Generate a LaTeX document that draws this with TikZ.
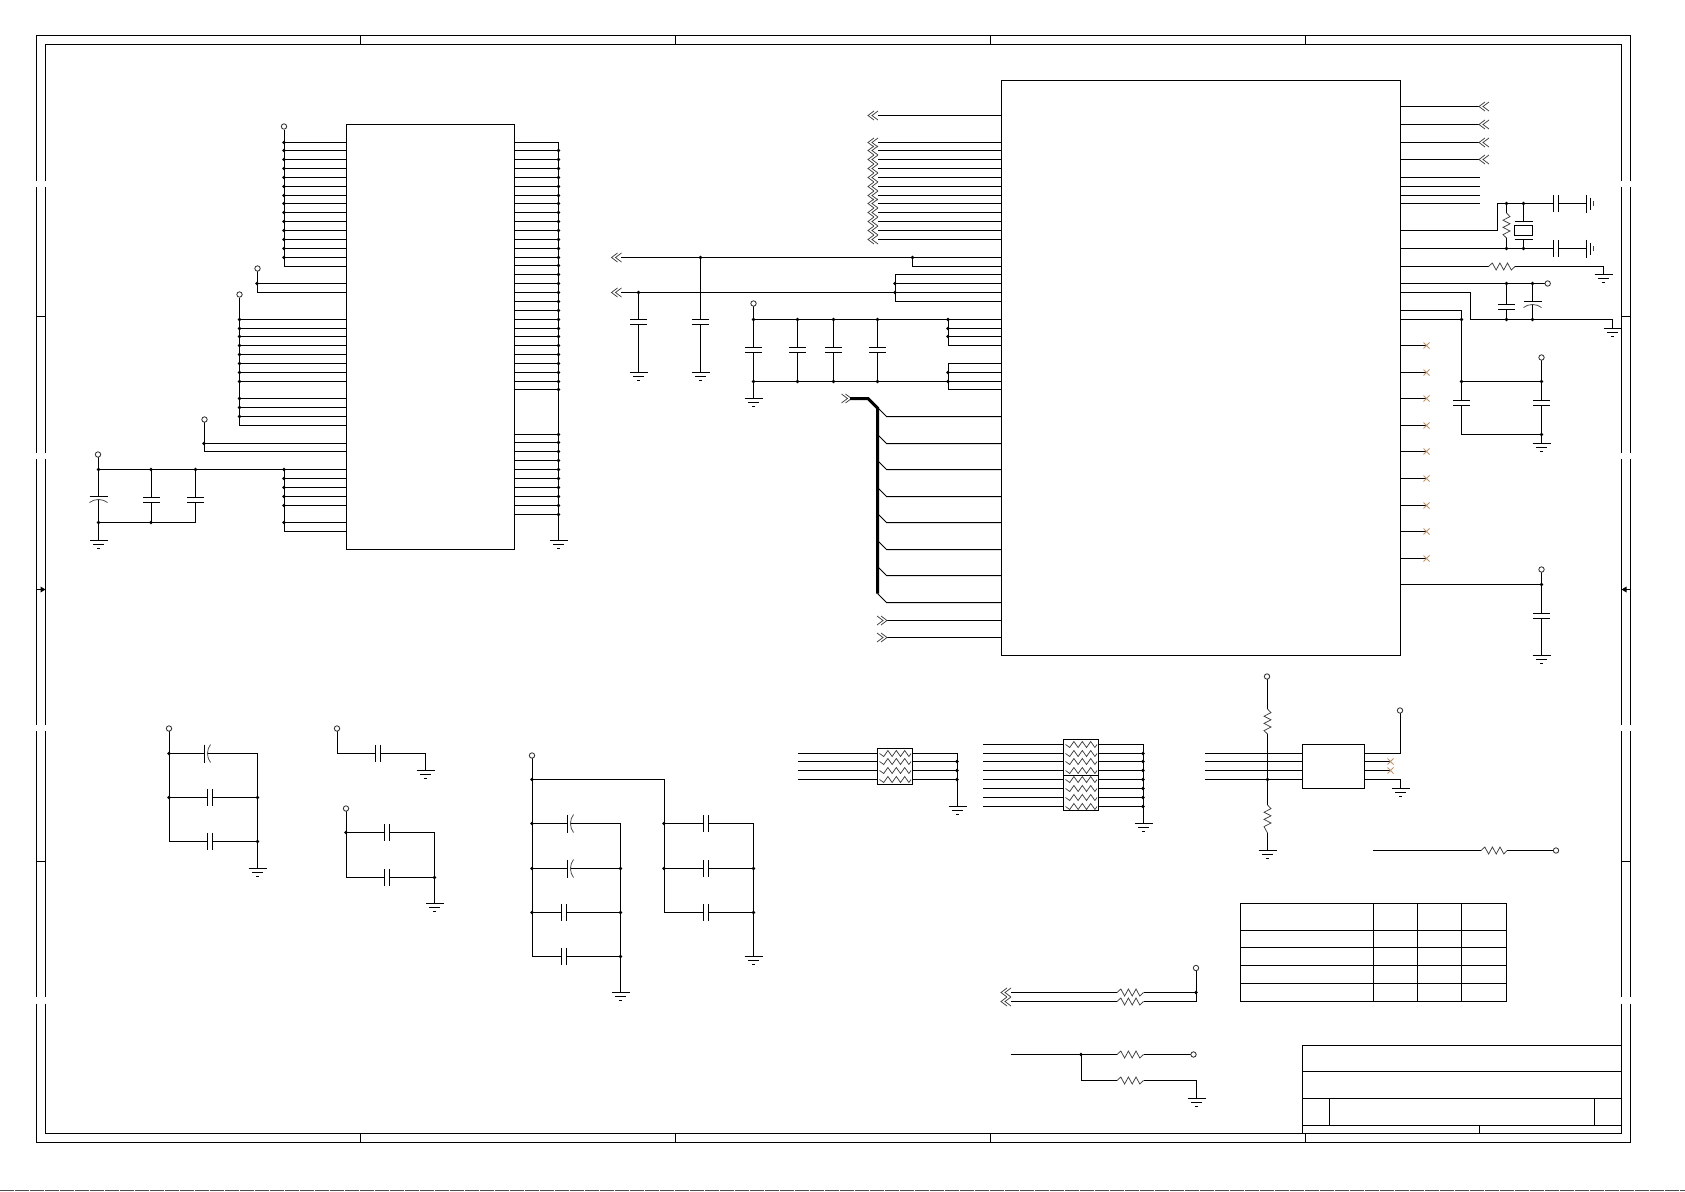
\documentclass[tikz,border=0pt]{standalone}
\definecolor{nc}{RGB}{196,150,110}
\tikzset{x=1pt,y=-1pt,
 wire/.style={line width=1pt,black},
 fine/.style={line width=.75pt,black!75},
 buswire/.style={line width=3pt,black},
 ncmark/.style={line width=.8pt,nc}}
\newcommand{\gnd}[2]{\draw[wire] (#1-9,#2)--(#1+9,#2) (#1-5.5,#2+4)--(#1+5.5,#2+4) (#1-1.5,#2+8)--(#1+1.5,#2+8);}
\newcommand{\gndr}[2]{\draw[wire] (#1,#2-9)--(#1,#2+9) (#1+3.5,#2-6)--(#1+3.5,#2+6);\draw[fine] (#1+7,#2-2.5)--(#1+7,#2+2.5);}
\newcommand{\jn}[2]{\fill[black] (#1,#2) circle (1.8);}
\newcommand{\term}[2]{\draw[line width=.85pt,black!80,fill=white] (#1,#2) circle (2.7);}
% capacitors: x, wire start, wire end, first plate
\newcommand{\capv}[4]{\draw[wire] (#1,#2)--(#1,#4) (#1,#3)--(#1,#4+5);\draw[wire] (#1-8.5,#4)--(#1+8.5,#4) (#1-8.5,#4+5)--(#1+8.5,#4+5);}
\newcommand{\pcapv}[4]{\draw[wire] (#1,#2)--(#1,#4) (#1,#3)--(#1,#4+2.5);\draw[wire] (#1-9,#4)--(#1+9,#4);\draw[fine] (#1-9,#4+6) .. controls (#1-4,#4+2) and (#1+4,#4+2) .. (#1+9,#4+6);}
\newcommand{\caph}[4]{\draw[wire] (#2,#1)--(#3,#1) (#4,#1)--(#3+4.5,#1);\draw[wire] (#3,#1-8.5)--(#3,#1+8.5) (#3+4.5,#1-8.5)--(#3+4.5,#1+8.5);}
\newcommand{\pcaph}[4]{\draw[wire] (#2,#1)--(#3,#1) (#4,#1)--(#3+3,#1);\draw[wire] (#3,#1-9)--(#3,#1+9);\draw[fine] (#3+6,#1-9) .. controls (#3+2,#1-4) and (#3+2,#1+4) .. (#3+6,#1+9);}
\newcommand{\resh}[3]{\draw[fine] (#1,#3)--(#1+3.8,#3-3.5)--(#1+7.6,#3+3.5)--(#1+11.4,#3-3.5)--(#1+15.2,#3+3.5)--(#1+19,#3-3.5)--(#1+22.8,#3+3.5)--(#2,#3);}
\newcommand{\resv}[3]{\draw[fine] (#3,#1)--(#3+3.5,#1+3.6)--(#3-3.5,#1+7.2)--(#3+3.5,#1+10.8)--(#3-3.5,#1+14.4)--(#3+3.5,#1+18)--(#3-3.5,#1+21.6)--(#3,#2);}
\newcommand{\chl}[2]{\draw[fine] (#1+6,#2-4.5)--(#1,#2)--(#1+6,#2+4.5) (#1+10,#2-4.5)--(#1+4,#2)--(#1+10,#2+4.5);}
\newcommand{\chr}[2]{\draw[fine] (#1,#2-4.5)--(#1+6,#2)--(#1,#2+4.5) (#1+4,#2-4.5)--(#1+10,#2)--(#1+4,#2+4.5);}
\newcommand{\nc}[2]{\draw[ncmark] (#1-3,#2-3)--(#1+3,#2+3) (#1-3,#2+3)--(#1+3,#2-3);}
\newcommand{\wavebox}[3]{\draw[fine] (#1,#3)--(#1+4.2,#3+3)--(#1+8.4,#3-3)--(#1+12.6,#3+3)--(#1+16.8,#3-3)--(#1+21,#3+3)--(#1+25.2,#3-3)--(#1+29.4,#3+3)--(#2,#3);}
\begin{document}
\begin{tikzpicture}
\path[use as bounding box,fill=white] (0,0) rectangle (1685,1191);
\draw[wire,black!70,dash pattern=on 14pt off 1pt] (0,1190.5)--(1685,1190.5);
% ---------- sheet frame
\draw[wire,line width=1.1pt] (36.5,181)--(36.5,35.5)--(1630.5,35.5)--(1630.5,181) (45.5,181)--(45.5,44.5)--(1621.5,44.5)--(1621.5,181);
\foreach \a/\b in {187/453,459/725,731/997,1003.5/1142.5}{\draw[wire] (36.5,\a)--(36.5,\b) (1630.5,\a)--(1630.5,\b);}
\foreach \a/\b in {187/453,459/725,731/997,1003.5/1133.5}{\draw[wire] (45.5,\a)--(45.5,\b) (1621.5,\a)--(1621.5,\b);}
\draw[wire,line width=1.1pt] (36.5,1142.5)--(1630.5,1142.5) (45.5,1133.5)--(1621.5,1133.5);
\foreach \x in {360.5,675.5,990.5,1305.5}{\draw[wire] (\x,35.5)--(\x,44.5) (\x,1133.5)--(\x,1142.5);}
\foreach \y in {316.5,861.5}{\draw[wire] (36.5,\y)--(45.5,\y) (1621.5,\y)--(1630.5,\y);}
\draw[wire] (36.5,589.5)--(45.5,589.5) (1621.5,589.5)--(1630.5,589.5);
\fill[black] (45.5,589.5)--(40.5,586.5)--(40.5,592.5)--cycle (1621.5,589.5)--(1626.5,586.5)--(1626.5,592.5)--cycle;
% ---------- left IC
\draw[wire] (346.5,124.5) rectangle (514.5,549.5);
\draw[wire] (284.5,129.5)--(284.5,266.5);
\term{284}{126.5}
\foreach \y in {142.5,150.5,159.5,168.5,177.5,186.5,195.5,203.5,212.5,221.5,230.5,239.5,248.5,257.5}{\draw[wire] (284.5,\y)--(346.5,\y);\jn{284}{\y}}
\draw[wire] (284.5,266.5)--(346.5,266.5);
\draw[wire] (257.5,271)--(257.5,292.5)--(346.5,292.5) (257.5,283.5)--(346.5,283.5);
\term{257.5}{268.5}\jn{257}{283.5}
\draw[wire] (239.5,297.5)--(239.5,425.5)--(346.5,425.5);
\term{239.5}{294.5}
\foreach \y in {319.5,328.5,336.5,345.5,354.5,363.5,372.5,381.5,398.5,407.5,416.5}{\draw[wire] (239.5,\y)--(346.5,\y);\jn{239.5}{\y}}
\draw[wire] (204.5,422)--(204.5,451.5)--(346.5,451.5) (204.5,443.5)--(346.5,443.5);
\term{204.5}{419.5}\jn{204}{443.5}
\draw[wire] (98.5,457)--(98.5,469.5)--(346.5,469.5) (284.5,469.5)--(284.5,531.5)--(346.5,531.5);
\term{98}{454.5}
\foreach \y in {469.5,478.5,487.5,496.5,505.5,522.5}{\draw[wire] (284.5,\y)--(346.5,\y);\jn{284}{\y}}
\pcapv{98.5}{469.5}{522.5}{496.5}
\capv{151.5}{469.5}{522.5}{497.5}
\capv{195.5}{469.5}{522.5}{497.5}
\draw[wire] (98.5,522.5)--(195.5,522.5) (98.5,522.5)--(98.5,540.5);
\foreach \x/\y in {98.5/469.5,151/469.5,195.5/469.5,98.5/522.5,151/522.5}{\jn{\x}{\y}}
\gnd{98.5}{540.5}
\draw[wire] (514.5,142.5)--(558.5,142.5)--(558.5,540.5);
\foreach \y in {150.5,159.5,168.5,177.5,186.5,195.5,203.5,212.5,221.5,230.5,239.5,248.5,257.5,265.5,274.5,283.5,292.5,301.5,310.5,319.5,328.5,336.5,345.5,354.5,363.5,372.5,381.5,389.5,434.5,442.5,451.5,460.5,469.5,478.5,487.5,496.5,505.5,514.5}{\draw[wire] (514.5,\y)--(558.5,\y);\jn{558.5}{\y}}
\gnd{558.5}{540.5}
% ---------- main IC, left side
\draw[wire] (1001.5,80.5) rectangle (1400.5,655.5);
\foreach \y in {115.5,142.5,150.5,159.5,168.5,177.5,186.5,195.5,203.5,212.5,221.5,230.5,239.5}{\draw[wire] (878,\y)--(1001.5,\y);\chl{868}{\y}}
\draw[wire] (621,257.5)--(1001.5,257.5) (912.5,257.5)--(912.5,266.5)--(1001.5,266.5);
\chl{611.5}{257.5}\jn{700.5}{257.5}\jn{912.5}{257.5}
\draw[wire] (621,292.5)--(895.5,292.5);\chl{611.5}{292.5}
\draw[wire] (1001.5,274.5)--(895.5,274.5)--(895.5,301.5)--(1001.5,301.5) (895.5,283.5)--(1001.5,283.5) (895.5,292.5)--(1001.5,292.5);
\jn{895}{283.5}\jn{895}{292.5}
\capv{638.5}{292.5}{372.5}{319.5}\jn{638.5}{292.5}\gnd{638.5}{372.5}
\capv{700.5}{257.5}{372.5}{319.5}\gnd{700.5}{372.5}
\draw[wire] (753.5,306)--(753.5,319.5)--(1001.5,319.5);
\term{753.5}{303.5}
\draw[wire] (753.5,381.5)--(1001.5,381.5) (948.5,319.5)--(948.5,345.5)--(1001.5,345.5) (948.5,328.5)--(1001.5,328.5) (948.5,336.5)--(1001.5,336.5);
\draw[wire] (1001.5,363.5)--(948.5,363.5)--(948.5,389.5)--(1001.5,389.5) (948.5,372.5)--(1001.5,372.5);
\foreach \x in {753.5,797.5,833.5,877.5}{\capv{\x}{319.5}{381.5}{347.5}\jn{\x}{319.5}\jn{\x}{381.5}}
\foreach \y in {319.5,328.5,336.5,372.5,381.5}{\jn{948}{\y}}
\draw[wire] (753.5,381.5)--(753.5,398.5);\gnd{753.5}{398.5}
\chr{841.5}{398.5}
\draw[buswire,line join=miter] (850,398.5)--(868,398.5)--(877.5,408)--(877.5,593.5);
\foreach \y in {416.5,443.5,469.5,496.5,522.5,549.5,575.5,602.5}{\draw[wire] (877.5,\y-9)--(886.5,\y)--(1001.5,\y);}
\foreach \y in {620.5,637.5}{\draw[wire] (887,\y)--(1001.5,\y);\chr{877}{\y}}
% ---------- main IC, right side
\foreach \y in {106.5,124.5,142.5,159.5}{\draw[wire] (1400.5,\y)--(1480,\y);\chl{1479}{\y}}
\foreach \y in {177.5,186.5,195.5,203.5}{\draw[wire] (1400.5,\y)--(1480,\y);}
\draw[wire] (1400.5,230.5)--(1497.5,230.5)--(1497.5,203.5)--(1553.5,203.5);
\draw[wire] (1400.5,248.5)--(1553.5,248.5);
\foreach \y in {203.5,248.5}{\caph{\y}{1553.5}{1553.5}{1586.5}\gndr{1586.5}{\y}}
\draw[wire] (1506.5,203.5)--(1506.5,213) (1506.5,238)--(1506.5,248.5);
\resv{213}{238}{1506.5}
\draw[wire] (1523.5,203.5)--(1523.5,221.5) (1523.5,239.5)--(1523.5,248.5) (1514.5,221.5)--(1532.5,221.5) (1514.5,239.5)--(1532.5,239.5);
\draw[wire] (1514.5,225.5) rectangle (1532.5,235.5);
\foreach \x in {1506.5,1523.5}{\jn{\x}{203.5}\jn{\x}{248.5}}
\draw[wire] (1400.5,266.5)--(1488.5,266.5) (1515,266.5)--(1603.5,266.5)--(1603.5,274.5);
\resh{1488.5}{1515}{266.5}\gnd{1603.5}{274.5}
\draw[wire] (1400.5,283.5)--(1545,283.5);\term{1547.7}{283.5}
\draw[wire] (1400.5,292.5)--(1470.5,292.5)--(1470.5,319.5)--(1612.5,319.5)--(1612.5,328.5);\gnd{1612.5}{328.5}
\capv{1506.5}{283.5}{319.5}{304.5}
\pcapv{1532.5}{283.5}{319.5}{301.5}
\foreach \x in {1506.5,1532.5}{\jn{\x}{283.5}\jn{\x}{319.5}}
\draw[wire] (1400.5,310.5)--(1461.5,310.5) (1400.5,319.5)--(1461.5,319.5);\jn{1461.5}{319.5}
\capv{1461.5}{310.5}{434.5}{400.5}
\draw[wire] (1461.5,381.5)--(1541.5,381.5) (1461.5,434.5)--(1541.5,434.5);
\capv{1541.5}{360}{443.5}{400.5}
\term{1541.5}{357.5}
\jn{1461.5}{381.5}\jn{1541.5}{381.5}\jn{1541.5}{434.5}
\gnd{1541.5}{443.5}
\foreach \y in {345.5,372.5,398.5,425.5,451.5,478.5,505.5,531.5,558.5}{\draw[wire] (1400.5,\y)--(1426.5,\y);\nc{1426.5}{\y}}
\draw[wire] (1400.5,584.5)--(1541.5,584.5);
\capv{1541.5}{572}{655.5}{613.5}
\term{1541.5}{569.5}\jn{1541.5}{584.5}\gnd{1541.5}{655.5}
% ---------- resistor packs
\draw[wire] (877.5,748.5) rectangle (912.5,784.5);
\foreach \y in {753.5,761.5,770.5,779.5}{\draw[wire] (797.5,\y)--(877.5,\y) (912.5,\y)--(957.5,\y);\wavebox{879.5}{911}{\y}}
\draw[wire] (957.5,753.5)--(957.5,806.5);
\foreach \y in {761.5,770.5,779.5}{\jn{957}{\y}}
\gnd{957.5}{806.5}
\draw[wire] (1063.5,739.5) rectangle (1098.5,775.5) (1063.5,775.5) rectangle (1098.5,810.5);
\foreach \y in {744.5,753.5,761.5,770.5,779.5,788.5,797.5,806.5}{\draw[wire] (983,\y)--(1063.5,\y) (1098.5,\y)--(1143.5,\y);\wavebox{1065.5}{1097}{\y}}
\draw[wire] (1143.5,744.5)--(1143.5,823.5);
\foreach \y in {753.5,761.5,770.5,779.5,788.5,797.5,806.5}{\jn{1143}{\y}}
\gnd{1143.5}{823.5}
% ---------- small IC
\draw[wire] (1302.5,744.5) rectangle (1364.5,788.5);
\foreach \y in {753.5,761.5,770.5,779.5}{\draw[wire] (1205,\y)--(1302.5,\y);}
\draw[wire] (1267.5,679)--(1267.5,709) (1267.5,734)--(1267.5,805) (1267.5,833)--(1267.5,850.5);
\resv{709}{734}{1267.5}\resv{805}{833}{1267.5}
\term{1267}{676.5}\jn{1267.5}{779.5}\gnd{1267.5}{850.5}
\draw[wire] (1364.5,753.5)--(1400.5,753.5)--(1400.5,713);\term{1400}{710.5}
\foreach \y in {761.5,770.5}{\draw[wire] (1364.5,\y)--(1390.5,\y);\nc{1390.5}{\y}}
\draw[wire] (1364.5,779.5)--(1400.5,779.5)--(1400.5,788.5);\gnd{1400.5}{788.5}
\draw[wire] (1373,850.5)--(1481,850.5) (1507,850.5)--(1553.5,850.5);
\resh{1481}{1507}{850.5}\term{1556}{850.5}
% ---------- decoupling groups
\draw[wire] (169.5,731)--(169.5,841.5);\term{169}{728.5}
\pcaph{753.5}{169.5}{204.5}{257.5}
\caph{797.5}{169.5}{207.5}{257.5}
\caph{841.5}{169.5}{207.5}{257.5}
\draw[wire] (257.5,753.5)--(257.5,868.5);
\foreach \x/\y in {169/753.5,169/797.5,257.5/797.5,257.5/841.5}{\jn{\x}{\y}}
\gnd{257.5}{868.5}
\draw[wire] (337,731)--(337,753.5);\term{337}{728.5}
\caph{753.5}{337}{375.5}{425.5}
\draw[wire] (425.5,753.5)--(425.5,770.5);\gnd{425.5}{770.5}
\draw[wire] (346.5,811)--(346.5,877.5);\term{346}{808.5}
\caph{832.5}{346.5}{384.5}{434.5}
\caph{877.5}{346.5}{384.5}{434.5}
\draw[wire] (434.5,832.5)--(434.5,903.5);
\jn{346}{832.5}\jn{434.5}{877.5}\gnd{434.5}{903.5}
\draw[wire] (532.5,758)--(532.5,956.5);\term{532}{755.5}
\draw[wire] (532.5,779.5)--(664.5,779.5)--(664.5,912.5);\jn{532}{779.5}
\pcaph{823.5}{532.5}{567.5}{620.5}
\pcaph{868.5}{532.5}{567.5}{620.5}
\caph{912.5}{532.5}{561.5}{620.5}
\caph{956.5}{532.5}{561.5}{620.5}
\draw[wire] (620.5,823.5)--(620.5,992.5);\gnd{620.5}{992.5}
\foreach \x/\y in {532/823.5,532/868.5,532/912.5,620.5/868.5,620.5/912.5,620.5/956.5}{\jn{\x}{\y}}
\caph{823.5}{664.5}{703.5}{753.5}
\caph{868.5}{664.5}{703.5}{753.5}
\caph{912.5}{664.5}{703.5}{753.5}
\draw[wire] (753.5,823.5)--(753.5,956.5);\gnd{753.5}{956.5}
\foreach \x/\y in {664/823.5,664/868.5,753.5/868.5,753.5/912.5}{\jn{\x}{\y}}
% ---------- table
\draw[wire] (1240.5,903.5) rectangle (1506.5,1001.5);
\foreach \y in {930.5,947.5,965.5,983.5}{\draw[wire] (1240.5,\y)--(1506.5,\y);}
\foreach \x in {1373.5,1417.5,1461.5}{\draw[wire] (\x,903.5)--(\x,1001.5);}
% ---------- lower nets
\draw[wire] (1011,992.5)--(1117,992.5) (1143.5,992.5)--(1196.5,992.5);
\draw[wire] (1011,1001.5)--(1117,1001.5) (1143.5,1001.5)--(1196.5,1001.5)--(1196.5,970.5);
\resh{1117}{1143.5}{992.5}\resh{1117}{1143.5}{1001.5}
\chl{1001}{992.5}\chl{1001}{1001.5}
\term{1196}{968}\jn{1196}{992.5}
\draw[wire] (1010.5,1054.5)--(1117,1054.5) (1143.5,1054.5)--(1190.5,1054.5);
\resh{1117}{1143.5}{1054.5}\term{1193.5}{1054.5}\jn{1081}{1054.5}
\draw[wire] (1081.5,1054.5)--(1081.5,1080.5)--(1117,1080.5) (1143.5,1080.5)--(1196.5,1080.5)--(1196.5,1098.5);
\resh{1117}{1143.5}{1080.5}\gnd{1196.5}{1098.5}
% ---------- title block
\draw[wire] (1621.5,1045.5)--(1302.5,1045.5)--(1302.5,1133.5);
\foreach \y in {1071.5,1098.5,1125.5}{\draw[wire] (1302.5,\y)--(1621.5,\y);}
\foreach \x in {1329.5,1594.5}{\draw[wire] (\x,1098.5)--(\x,1125.5);}
\draw[wire] (1479.5,1125.5)--(1479.5,1133.5);
\end{tikzpicture}
\end{document}
